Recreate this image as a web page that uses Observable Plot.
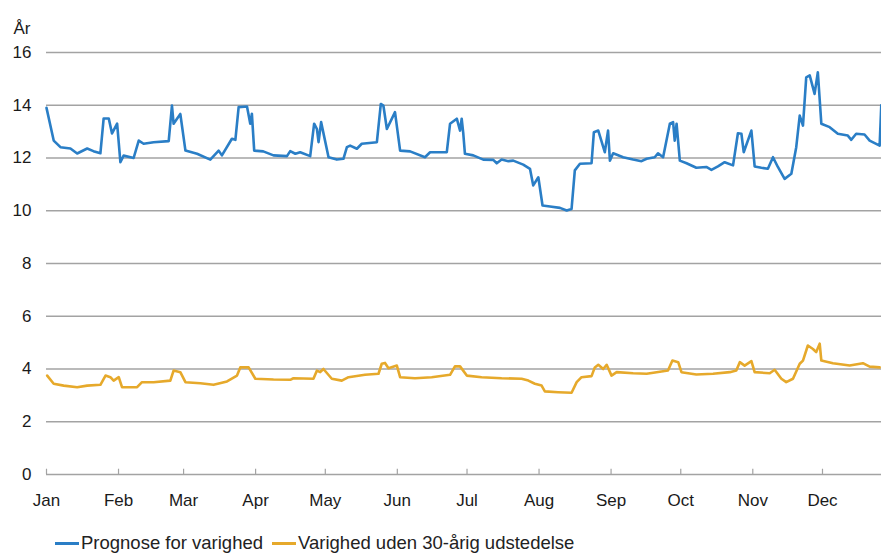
<!DOCTYPE html>
<html>
<head>
<meta charset="utf-8">
<script src="https://cdn.jsdelivr.net/npm/d3@7"></script>
<script src="https://cdn.jsdelivr.net/npm/@observablehq/plot@0.6"></script>
<style>
  body { margin: 0; background: #fff; font-family: "Liberation Sans", Arial, sans-serif; }
  #legend { display: flex; align-items: center; height: 46px; padding-left: 55px; font-size: 18.5px; color: #222; }
  .item { display: flex; align-items: center; margin-right: 9px; }
  .sw { display: inline-block; width: 24px; height: 3px; margin-right: 2px; }
</style>
</head>
<body>
<div id="chart"></div>
<div id="legend"></div>
<script>
const year = 2015;
const seriesNames = ["Prognose for varighed", "Varighed uden 30-årig udstedelse"];
const seriesColors = ["#2a7ec6", "#e6a92b"];
const monthLabels = ["Jan","Feb","Mar","Apr","May","Jun","Jul","Aug","Sep","Oct","Nov","Dec"];
const yTicks = [0, 2, 4, 6, 8, 10, 12, 14, 16];
const yLabel = "År";
const lastDay = 359.4; // day of year (0 = 1 Jan) at the right edge

// Series 1: Prognose for varighed  (day of year, years)
const prognoseDays = [0,3.1,6.0,10.3,13.2,17.5,20.2,23.2,24.6,26.8,28.2,30.4,31.8,33.2,37.5,39.7,41.8,46.1,52.6,54.0,54.7,57.6,59.8,64.8,70.5,74.1,75.5,79.8,81.3,82.7,86.3,87.7,88.4,89.4,93.3,97.7,103.5,104.9,107.1,109.2,113.5,115.2,116.4,117.1,118.2,121.4,125.0,127.8,129.3,130.7,133.6,135.7,142.2,143.9,145.0,146.5,150.0,152.2,156.5,162.9,165.1,172.3,173.7,176.6,178.0,178.7,179.4,180.1,183.7,188.0,192.3,193.8,195.9,198.8,200.9,205.2,208.1,209.5,211.7,213.5,216.7,221.0,223.9,226.0,227.4,229.6,234.6,235.6,237.5,240.3,241.7,242.5,243.9,248.2,252.5,256.1,258.3,261.8,263.2,265.4,268.3,269.7,270.4,271.2,272.6,275.5,279.7,284.0,286.2,289.0,291.9,295.5,297.6,299.1,300.1,303.4,304.8,307.7,310.5,312.7,314.8,317.7,320.6,322.7,324.2,325.6,327.0,328.5,330.6,332.0,333.5,337.1,340.6,344.9,346.4,348.5,352.1,354.3,358.6,359.3];
const prognoseValues = [13.9,12.66,12.41,12.36,12.17,12.36,12.26,12.18,13.5,13.5,12.93,13.3,11.84,12.09,12.0,12.66,12.54,12.6,12.64,13.99,13.3,13.67,12.28,12.16,11.94,12.28,12.1,12.73,12.69,13.93,13.95,13.3,13.68,12.28,12.25,12.1,12.07,12.26,12.16,12.22,12.07,13.3,13.1,12.6,13.36,12.03,11.94,11.97,12.41,12.47,12.35,12.54,12.6,14.05,13.99,13.1,13.74,12.28,12.25,12.03,12.22,12.22,13.3,13.49,13.04,13.49,12.92,12.16,12.1,11.94,11.93,11.8,11.94,11.88,11.9,11.75,11.59,10.96,11.27,10.2,10.16,10.11,10.01,10.07,11.53,11.78,11.8,12.98,13.04,12.22,13.04,11.9,12.18,12.03,11.94,11.88,11.97,12.03,12.18,12.03,13.3,13.36,12.66,13.3,11.9,11.8,11.63,11.66,11.55,11.68,11.84,11.72,12.94,12.92,12.22,13.04,11.68,11.63,11.59,12.03,11.66,11.21,11.4,12.41,13.61,13.23,15.06,15.13,14.43,15.25,13.3,13.17,12.92,12.85,12.69,12.92,12.89,12.66,12.47,14.0];

// Series 2: Varighed uden 30-årig udstedelse  (day of year, years)
const udenDays = [0.3,3.1,7.4,13.2,17.5,23.2,25.4,27.5,28.9,31.1,32.5,39.0,41.1,46.1,53.3,54.7,57.6,59.8,66.2,71.9,77.7,82.0,83.4,87.0,89.9,97.7,104.9,106.3,114.9,116.4,117.8,119.2,122.8,127.1,130.0,137.1,142.9,144.3,145.7,147.2,150.8,152.2,158.6,165.8,173.7,175.8,178.0,180.9,187.3,195.9,204.5,207.4,210.2,213.1,214.5,220.2,226.0,228.2,230.3,234.6,236.0,237.5,239.6,241.1,243.2,245.4,252.5,258.3,262.6,267.5,269.4,271.9,273.3,279.7,286.9,294.1,296.9,298.4,300.5,303.4,304.8,311.3,313.4,316.3,318.4,321.3,324.2,325.6,327.7,329.9,331.3,332.8,333.5,338.5,345.7,351.4,354.3,358.6];
const udenValues = [3.75,3.44,3.37,3.31,3.37,3.4,3.75,3.69,3.56,3.69,3.31,3.31,3.5,3.5,3.56,3.94,3.88,3.5,3.46,3.4,3.53,3.75,4.06,4.06,3.63,3.6,3.59,3.65,3.63,3.94,3.88,4.0,3.63,3.56,3.69,3.78,3.82,4.2,4.23,4.03,4.13,3.69,3.65,3.69,3.78,4.1,4.1,3.75,3.69,3.65,3.63,3.56,3.44,3.37,3.15,3.12,3.1,3.5,3.69,3.73,4.06,4.16,4.0,4.16,3.75,3.88,3.84,3.82,3.88,3.94,4.32,4.26,3.88,3.79,3.82,3.88,3.94,4.26,4.13,4.3,3.88,3.84,3.97,3.63,3.5,3.63,4.2,4.32,4.89,4.76,4.64,4.96,4.32,4.22,4.13,4.22,4.09,4.06];

const t0 = Date.UTC(year, 0, 1);
const toDate = d => new Date(t0 + d * 864e5);
const data = [
  ...prognoseDays.map((d, i) => ({date: toDate(d), value: prognoseValues[i], series: seriesNames[0]})),
  ...udenDays.map((d, i) => ({date: toDate(d), value: udenValues[i], series: seriesNames[1]}))
];
const monthStarts = d3.range(12).map(m => new Date(Date.UTC(year, m, 1)));

const chart = Plot.plot({
  width: 881,
  height: 520,
  marginTop: 52,
  marginBottom: 46,
  marginLeft: 46,
  marginRight: 0,
  style: {fontFamily: "'Liberation Sans', Arial, sans-serif", fontSize: "17px", color: "#1a1a1a", background: "#fff"},
  x: {type: "utc", domain: [toDate(0), toDate(lastDay)]},
  y: {domain: [0, 16]},
  color: {domain: seriesNames, range: seriesColors},
  marks: [
    Plot.ruleY(yTicks, {stroke: "#a3a3a3", strokeWidth: 1.5}),
    Plot.ruleX(monthStarts, {x: d => d, y1: 0, y2: 0.2, stroke: "#a3a3a3", strokeWidth: 1.2}),
    Plot.line(data, {x: "date", y: "value", z: "series", stroke: "series", strokeWidth: 2.6, strokeLinejoin: "round", curve: "linear"}),
    Plot.axisX({ticks: monthStarts, tickFormat: d => monthLabels[d.getUTCMonth()], tickSize: 0, tickPadding: 19, fontSize: 17, label: null}),
    Plot.axisY({ticks: yTicks, tickSize: 0, tickPadding: 15, fontSize: 17, label: null}),
    Plot.text([yLabel], {frameAnchor: "top-left", dx: -16, dy: -31, textAnchor: "end", fontSize: 17})
  ]
});
document.getElementById("chart").appendChild(chart);

const legend = document.getElementById("legend");
seriesNames.forEach((name, i) => {
  const item = document.createElement("span");
  item.className = "item";
  const sw = document.createElement("span");
  sw.className = "sw";
  sw.style.background = seriesColors[i];
  const label = document.createElement("span");
  label.textContent = name;
  item.appendChild(sw);
  item.appendChild(label);
  legend.appendChild(item);
});
</script>
</body>
</html>
